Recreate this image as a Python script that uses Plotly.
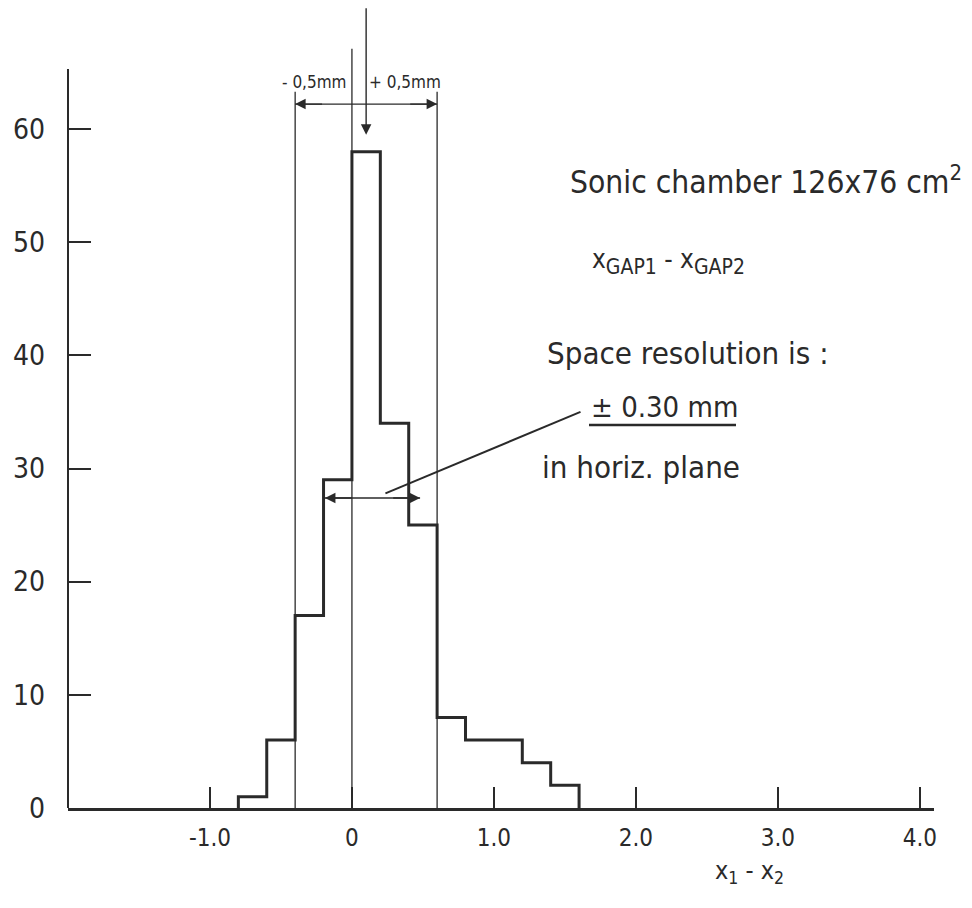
import plotly.graph_objects as go

# ---- data ----
bin_edges = [-0.8, -0.6, -0.4, -0.2, 0.0, 0.2, 0.4, 0.6, 0.8, 1.0, 1.2, 1.4, 1.6]
counts = [1, 6, 17, 29, 58, 34, 25, 8, 6, 6, 4, 2]

x_tickvals = [-1.0, 0.0, 1.0, 2.0, 3.0, 4.0]
x_ticktext = ["-1.0", "0", "1.0", "2.0", "3.0", "4.0"]
y_tickvals = [0, 10, 20, 30, 40, 50, 60]
y_ticktext = ["0", "10", "20", "30", "40", "50", "60"]

# reference marks (data coordinates)
center_mark = 0.1
window_edges = [-0.4, 0.6]
window_arrow_y = 62.2
fwhm_edges = [-0.19, 0.48]
fwhm_y = 27.4

FONT = "DejaVu Sans Condensed, DejaVu Sans"
INK = "#2a2a2a"

W, H = 972, 908
L, R, T, B = 68, 38, 0, 100
PW, PH = W - L - R, H - T - B


def px(x):
    return (x - L) / PW


def py(y):
    return (H - B - y) / PH


# step outline built from the bins
sx = [bin_edges[0]] + bin_edges
sy = [0] + counts + [0]

fig = go.Figure()
fig.add_trace(go.Scatter(x=sx, y=sy, mode="lines", line=dict(shape="hv", color=INK, width=3),
                         showlegend=False, hoverinfo="skip"))

shapes = []
# y axis line
shapes.append(dict(type="line", xref="paper", yref="y", x0=0, x1=0, y0=0, y1=65.3,
                   line=dict(color=INK, width=2)))
# zero line
shapes.append(dict(type="line", xref="x", yref="y", x0=0, x1=0, y0=0, y1=67.1,
                   line=dict(color=INK, width=1.3)))
# window lines
for we in window_edges:
    shapes.append(dict(type="line", xref="x", yref="y", x0=we, x1=we, y0=0, y1=63.3,
                       line=dict(color=INK, width=1.3)))
# horizontal arrow shafts
shapes.append(dict(type="line", xref="x", yref="y", x0=window_edges[0], x1=window_edges[1],
                   y0=window_arrow_y, y1=window_arrow_y, line=dict(color=INK, width=1.4)))
shapes.append(dict(type="line", xref="x", yref="y", x0=fwhm_edges[0], x1=fwhm_edges[1],
                   y0=fwhm_y, y1=fwhm_y, line=dict(color=INK, width=1.4)))
# pointer line to resolution text
shapes.append(dict(type="line", xref="x", yref="y", x0=0.236, y0=27.8, x1=1.61, y1=35.0,
                   line=dict(color=INK, width=2)))
# underline of value
shapes.append(dict(type="line", xref="paper", yref="paper", x0=px(589), x1=px(736),
                   y0=py(425), y1=py(425), line=dict(color=INK, width=2.5)))

annotations = []


def arrow(x_tip, y_tip, x_tail, y_tail, size=1.5):
    annotations.append(dict(x=x_tip, y=y_tip, ax=x_tail, ay=y_tail, xref="x", yref="y",
                            axref="x", ayref="y", text="", showarrow=True, arrowhead=2,
                            arrowsize=size, arrowwidth=1.4, arrowcolor=INK, standoff=0))


arrow(center_mark, 59.5, center_mark, 70.8)
arrow(window_edges[0], window_arrow_y, window_edges[0] + 0.2, window_arrow_y)
arrow(window_edges[1], window_arrow_y, window_edges[1] - 0.2, window_arrow_y)
arrow(fwhm_edges[0], fwhm_y, fwhm_edges[0] + 0.2, fwhm_y)
arrow(fwhm_edges[1], fwhm_y, fwhm_edges[1] - 0.2, fwhm_y)


def text(t, x, y, size, xanchor="left"):
    annotations.append(dict(x=px(x), y=py(y), xref="paper", yref="paper", text=t,
                            showarrow=False, xanchor=xanchor, yanchor="middle",
                            font=dict(family=FONT, size=size, color=INK)))


text("- 0,5mm", 349, 82, 17, "right")
text("+ 0,5mm", 367, 82, 17, "left")
text("Sonic chamber 126x76 cm<sup>2</sup>", 568, 180, 31.5)
text("x<span style='font-size:30px'><sub>GAP1</sub></span> - "
     "x<span style='font-size:30px'><sub>GAP2</sub></span>", 590, 262, 26)
text("Space resolution is :", 545, 353, 31)
text("± 0.30 mm", 589, 407, 29)
text("in horiz. plane", 540, 467, 31)
text("x<sub>1</sub> - x<sub>2</sub>", 713, 872, 25)

fig.update_layout(
    width=W, height=H, margin=dict(l=L, r=R, t=T, b=B),
    paper_bgcolor="white", plot_bgcolor="white",
    shapes=shapes, annotations=annotations,
    xaxis=dict(range=[-2.0, 4.1], tickvals=x_tickvals, ticktext=x_ticktext, ticks="inside",
               ticklen=21, tickwidth=1.5, tickcolor=INK, showline=True, linewidth=2.5,
               linecolor=INK, showgrid=False, zeroline=False, ticklabelstandoff=6,
               tickfont=dict(family=FONT, size=24, color=INK)),
    yaxis=dict(range=[0, 71.4], tickvals=y_tickvals, ticktext=y_ticktext, ticks="inside",
               ticklen=23, tickwidth=1.5, tickcolor=INK, showline=False, showgrid=False,
               zeroline=False, ticklabelstandoff=22,
               tickfont=dict(family=FONT, size=28, color=INK)),
)

fig.write_html("out.html")
